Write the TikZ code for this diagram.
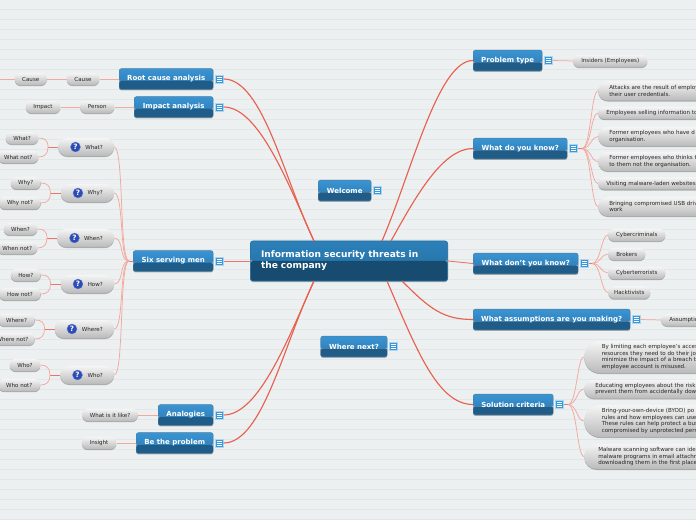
\documentclass[tikz,border=0pt]{standalone}
\usepackage{fontspec}
\setmainfont{DejaVu Sans}
\usetikzlibrary{positioning,shadows}
\definecolor{paper}{HTML}{ECF0F1}
\definecolor{rule}{HTML}{E2E6E7}
\definecolor{redline}{HTML}{E9604F}
\definecolor{pinkline}{HTML}{F4A79D}
\definecolor{bluetop}{HTML}{3A94D2}
\definecolor{bluemid}{HTML}{2A78B0}
\definecolor{bluelow}{HTML}{1F5C88}
\definecolor{roottop}{HTML}{2C80B8}
\definecolor{rootmid}{HTML}{236FA2}
\definecolor{rootlow}{HTML}{174C70}
\definecolor{note}{HTML}{3498DB}
\definecolor{ask}{HTML}{2C4DB5}
\begin{document}
\begin{tikzpicture}[
  x=0.75pt, y=-0.75pt,
  softshadow/.style={drop shadow={shadow xshift=0pt, shadow yshift=-0.8pt, opacity=.28, fill=black}},
  topic/.style={anchor=west, minimum width=#1*0.75pt, minimum height=15.5pt, inner sep=0pt,
                rounded corners=1.6pt, draw=bluelow!80, line width=.3pt, softshadow,
                text=white, font=\fontsize{5.25}{6}\selectfont\bfseries,
                path picture={
                  \shade[top color=bluetop, bottom color=bluemid]
                    (path picture bounding box.north west) rectangle ([yshift=-1.5pt]path picture bounding box.east);
                  \fill[bluelow] ([yshift=-1.5pt]path picture bounding box.west) rectangle (path picture bounding box.south east);}},
  rootbox/.style={anchor=west, minimum width=197*0.75pt, minimum height=40*0.75pt, inner xsep=8pt, inner ysep=0pt,
                text width=132pt, align=left,
                rounded corners=2pt, draw=rootmid, line width=.5pt, softshadow,
                text=white, font=\fontsize{6.8}{8.3}\selectfont\bfseries,
                path picture={
                  \shade[top color=roottop, bottom color=rootmid]
                    (path picture bounding box.north west) rectangle (path picture bounding box.east);
                  \fill[rootlow] (path picture bounding box.west) rectangle (path picture bounding box.south east);}},
  pill/.style={anchor=west, minimum width=#1*0.75pt, minimum height=9.2pt, inner sep=0pt,
               rounded corners=4.5pt, top color=white!96!black, bottom color=black!27, softshadow,
               text=black!85, font=\fontsize{4.15}{4.9}\selectfont},
  askpill/.style={pill=#1, minimum height=13.5pt, rounded corners=6.7pt,
                  inner xsep=8.3pt, text width=(#1-22)*0.75pt, align=right},
  longpill/.style n args={3}{pill=10, minimum height=#1*0.75pt, rounded corners=#2*0.75pt,
                  inner xsep=#3*0.75pt, text width=150pt, align=left},
  noteicon/.style={minimum size=6pt, inner sep=0pt, fill=note, draw=white!60!note, line width=.3pt,
                  path picture={
                    \draw[white, line width=.5pt]
                      ([xshift=1pt,yshift=1.6pt]path picture bounding box.west) -- ([xshift=-1pt,yshift=1.6pt]path picture bounding box.east)
                      ([xshift=1pt]path picture bounding box.west) -- ([xshift=-1pt]path picture bounding box.east)
                      ([xshift=1pt,yshift=-1.6pt]path picture bounding box.west) -- ([xshift=-1pt,yshift=-1.6pt]path picture bounding box.east);}},
  qmark/.style={circle, minimum size=7.5pt, inner sep=0pt, fill=ask, draw=ask!70!white, line width=.2pt,
                text=white, font=\fontsize{5.5}{6}\selectfont\bfseries},
  arr/.style={redline, line width=.85pt},
  stub/.style={redline!70!pinkline, line width=.7pt},
  twig/.style={pinkline, line width=.55pt}
]
\useasboundingbox (0,0) rectangle (696,520);
\clip (0,0) rectangle (696,520);
\fill[paper] (0,0) rectangle (696,520);
\foreach \y in {9,19,...,519}
  \draw[rule, line width=.45pt] (0,\y+.5) -- (696,\y+.5);

% central topic
\node[rootbox] (root) at (250,261) {Information security threats in\\the company};
\coordinate (rootnw) at (314,241);
\coordinate (rootne) at (382,241);
\coordinate (rootnf) at (391,241);
\coordinate (rootsw) at (314,281);
\coordinate (rootse) at (387,281);
\coordinate (rootsf) at (402,281);

% left branches
\node[topic=94] (rootcause) at (119,79) {Root cause analysis};
\node[noteicon, right=1.4pt of rootcause] (nrootcause) {};
\node[topic=79] (impact) at (134,107) {Impact analysis};
\node[noteicon, right=1.4pt of impact] (nimpact) {};
\node[topic=80] (sixmen) at (133,261) {Six serving men};
\node[noteicon, right=1.4pt of sixmen] (nsixmen) {};
\node[topic=55] (analogies) at (158,415) {Analogies};
\node[noteicon, right=1.4pt of analogies] (nanalogies) {};
\node[topic=77] (beproblem) at (136,443) {Be the problem};
\node[noteicon, right=1.4pt of beproblem] (nbeproblem) {};

% middle
\node[topic=53] (welcome) at (318,190.5) {Welcome};
\node[noteicon, right=1.4pt of welcome] (nwelcome) {};
\node[topic=66.5] (wherenext) at (320.5,346.5) {Where next?};
\node[noteicon, right=1.4pt of wherenext] (nwherenext) {};

% right branches
\node[topic=69] (probtype) at (473,60.5) {Problem type};
\node[noteicon, right=1.4pt of probtype] (nprobtype) {};
\node[topic=94] (know) at (473,148.5) {What do you know?};
\node[noteicon, right=1.4pt of know] (nknow) {};
\node[topic=105] (dontknow) at (473,263.5) {What don't you know?};
\node[noteicon, right=1.4pt of dontknow] (ndontknow) {};
\node[topic=157] (assume) at (473,319.5) {What assumptions are you making?};
\node[noteicon, right=1.4pt of assume] (nassume) {};
\node[topic=80] (solution) at (473,404.5) {Solution criteria};
\node[noteicon, right=1.4pt of solution] (nsolution) {};

% root cause and impact
\node[pill=32.5] (causeb) at (66.5,79) {Cause};
\node[pill=32] (causea) at (14.5,79) {Cause};
\coordinate (causeoff) at (0,79);
\node[pill=34] (person) at (80,107) {Person};
\node[pill=34.5] (impactleaf) at (25.5,107) {Impact};

% six serving men
\node[askpill=55.5] (what) at (58,147) {What?};
\node[qmark] (qwhat) at ([xshift=13.1pt]what.west) {?};
\node[askpill=53] (why) at (60.5,193) {Why?};
\node[qmark] (qwhy) at ([xshift=13.1pt]why.west) {?};
\node[askpill=56.5] (when) at (57,238) {When?};
\node[qmark] (qwhen) at ([xshift=13.1pt]when.west) {?};
\node[askpill=53] (how) at (60.5,284) {How?};
\node[qmark] (qhow) at ([xshift=13.1pt]how.west) {?};
\node[askpill=59] (where) at (54.5,329) {Where?};
\node[qmark] (qwhere) at ([xshift=13.1pt]where.west) {?};
\node[askpill=53.5] (who) at (60,375) {Who?};
\node[qmark] (qwho) at ([xshift=13.1pt]who.west) {?};

\node[pill=32.5] (whata) at (5.5,138) {What?};
\node[pill=40] (whatb) at (-2,157) {What not?};
\node[pill=30] (whya) at (10.5,183) {Why?};
\node[pill=41.5] (whyb) at (-1,203) {Why not?};
\node[pill=33.5] (whena) at (3.5,229) {When?};
\node[pill=40] (whenb) at (-3,248) {When not?};
\node[pill=30] (howa) at (10.5,275) {How?};
\node[pill=41.5] (howb) at (-1,294) {How not?};
\node[pill=36.5] (wherea) at (-2,320) {Where?};
\node[pill=44.5] (whereb) at (-10,339) {Where not?};
\node[pill=30.5] (whoa) at (9.5,365) {Who?};
\node[pill=42] (whob) at (-2,385) {Who not?};

\node[pill=55.5] (like) at (82,415) {What is it like?};
\node[pill=34.5] (insight) at (81.5,443) {Insight};

% right side leaves
\node[pill=74] (insiders) at (573,61) {Insiders (Employees)};
\node[longpill={19}{9.5}{11}] (attacks) at (598,91) {Attacks are the result of employ\\their user credentials.};
\node[longpill={12}{6}{8}] (selling) at (598,113) {Employees selling information to};
\node[longpill={19}{9.5}{11}] (formera) at (598,136.5) {Former employees who have d\\organisation.};
\node[longpill={19}{9.5}{11}] (formerb) at (598,161.5) {Former employees who thinks t\\to them not the organisation.};
\node[longpill={12}{6}{8}] (visiting) at (598,183.5) {Visiting malware-laden websites};
\node[longpill={19}{9.5}{11}] (usb) at (598,206.5) {Bringing compromised USB driv\\work};

\node[pill=57] (criminals) at (608,235) {Cybercriminals};
\node[pill=37] (brokers) at (608,254) {Brokers};
\node[pill=57] (terrorists) at (608,273) {Cyberterrorists};
\node[pill=42] (hacktivists) at (608,292.5) {Hacktivists};
\node[longpill={12}{6}{8}] (assumptions) at (661,320) {Assumptions};

\node[longpill={32}{16}{17.5}] (limiting) at (584,357) {By limiting each employee's acces\\resources they need to do their jo\\minimize the impact of a breach th\\employee account is misused.};
\node[longpill={18.5}{9.2}{11}] (educating) at (584,389) {Educating employees about the risk\\prevent them from accidentally dow};
\node[longpill={32}{16}{17.5}] (byod) at (584,421) {Bring-your-own-device (BYOD) po\\rules and how employees can use\\These rules can help protect a bus\\compromised by unprotected pers};
\node[longpill={25}{12.5}{14}] (scanning) at (584,456.5) {Malware scanning software can ide\\malware programs in email attachn\\downloading them in the first place};

% main connectors
\draw[arr] (nrootcause.east) .. controls +(39,0) and +(-30,-62) .. (rootnw);
\draw[arr] (nimpact.east) .. controls +(35,0) and +(-26,-58) .. (rootnw);
\draw[stub] (nsixmen.east) -- (root.west);
\draw[arr] (nanalogies.east) .. controls +(35,0) and +(-26,58) .. (rootsw);
\draw[arr] (nbeproblem.east) .. controls +(39,0) and +(-30,62) .. (rootsw);
\draw[arr] (rootne) .. controls +(30,-70) and +(-35,0) .. (probtype.west);
\draw[arr] (rootnf) .. controls +(26,-47) and +(-30,0) .. (know.west);
\draw[stub] (root.east) -- (dontknow.west);
\draw[arr] (rootsf) .. controls +(28,28) and +(-30,0) .. (assume.west);
\draw[arr] (rootse) .. controls +(30,70) and +(-35,0) .. (solution.west);

% branch twigs
\coordinate (hubleft) at (129,261);
\draw[stub] (sixmen.west) -- (hubleft);
\draw[twig] (hubleft) .. controls +(-10,0) and +(10,0) .. (what.east);
\draw[twig] (hubleft) .. controls +(-10,0) and +(10,0) .. (why.east);
\draw[twig] (hubleft) .. controls +(-10,0) and +(10,0) .. (when.east);
\draw[twig] (hubleft) .. controls +(-10,0) and +(10,0) .. (how.east);
\draw[twig] (hubleft) .. controls +(-10,0) and +(10,0) .. (where.east);
\draw[twig] (hubleft) .. controls +(-10,0) and +(10,0) .. (who.east);

\draw[twig] (rootcause.west) -- (causeb.east);
\draw[twig] (causeb.west) -- (causea.east);
\draw[twig] (causea.west) -- (causeoff);
\draw[twig] (impact.west) -- (person.east);
\draw[twig] (person.west) -- (impactleaf.east);
\draw[twig] (analogies.west) -- (like.east);
\draw[twig] (beproblem.west) -- (insight.east);

\coordinate (hubwhat) at (48,147);
\draw[stub] (what.west) -- (hubwhat);
\draw[twig] (hubwhat) .. controls +(0,-7) and +(6,0) .. (whata.east);
\draw[twig] (hubwhat) .. controls +(0,7) and +(6,0) .. (whatb.east);
\coordinate (hubwhy) at (50.5,193);
\draw[stub] (why.west) -- (hubwhy);
\draw[twig] (hubwhy) .. controls +(0,-7) and +(6,0) .. (whya.east);
\draw[twig] (hubwhy) .. controls +(0,7) and +(6,0) .. (whyb.east);
\coordinate (hubwhen) at (47,238);
\draw[stub] (when.west) -- (hubwhen);
\draw[twig] (hubwhen) .. controls +(0,-7) and +(6,0) .. (whena.east);
\draw[twig] (hubwhen) .. controls +(0,7) and +(6,0) .. (whenb.east);
\coordinate (hubhow) at (50.5,284);
\draw[stub] (how.west) -- (hubhow);
\draw[twig] (hubhow) .. controls +(0,-7) and +(6,0) .. (howa.east);
\draw[twig] (hubhow) .. controls +(0,7) and +(6,0) .. (howb.east);
\coordinate (hubwhere) at (44.5,329);
\draw[stub] (where.west) -- (hubwhere);
\draw[twig] (hubwhere) .. controls +(0,-7) and +(6,0) .. (wherea.east);
\draw[twig] (hubwhere) .. controls +(0,7) and +(6,0) .. (whereb.east);
\coordinate (hubwho) at (50,375);
\draw[stub] (who.west) -- (hubwho);
\draw[twig] (hubwho) .. controls +(0,-7) and +(6,0) .. (whoa.east);
\draw[twig] (hubwho) .. controls +(0,7) and +(6,0) .. (whob.east);

\draw[twig] (nprobtype.east) -- (insiders.west);
\draw[twig] (nassume.east) -- (assumptions.west);

\coordinate (hubknow) at (582,148.5);
\draw[stub] (nknow.east) -- (hubknow);
\draw[twig] (hubknow) .. controls +(9,0) and +(-7,0) .. (attacks.west);
\draw[twig] (hubknow) .. controls +(9,0) and +(-7,0) .. (selling.west);
\draw[twig] (hubknow) .. controls +(9,0) and +(-7,0) .. (formera.west);
\draw[twig] (hubknow) .. controls +(9,0) and +(-7,0) .. (formerb.west);
\draw[twig] (hubknow) .. controls +(9,0) and +(-7,0) .. (visiting.west);
\draw[twig] (hubknow) .. controls +(9,0) and +(-7,0) .. (usb.west);

\coordinate (hubdont) at (592,263.5);
\draw[stub] (ndontknow.east) -- (hubdont);
\draw[twig] (hubdont) .. controls +(9,0) and +(-7,0) .. (criminals.west);
\draw[twig] (hubdont) .. controls +(9,0) and +(-7,0) .. (brokers.west);
\draw[twig] (hubdont) .. controls +(9,0) and +(-7,0) .. (terrorists.west);
\draw[twig] (hubdont) .. controls +(9,0) and +(-7,0) .. (hacktivists.west);

\coordinate (hubsol) at (568,404.5);
\draw[stub] (nsolution.east) -- (hubsol);
\draw[twig] (hubsol) .. controls +(9,0) and +(-7,0) .. (limiting.west);
\draw[twig] (hubsol) .. controls +(9,0) and +(-7,0) .. (educating.west);
\draw[twig] (hubsol) .. controls +(9,0) and +(-7,0) .. (byod.west);
\draw[twig] (hubsol) .. controls +(9,0) and +(-7,0) .. (scanning.west);
\end{tikzpicture}
\end{document}
